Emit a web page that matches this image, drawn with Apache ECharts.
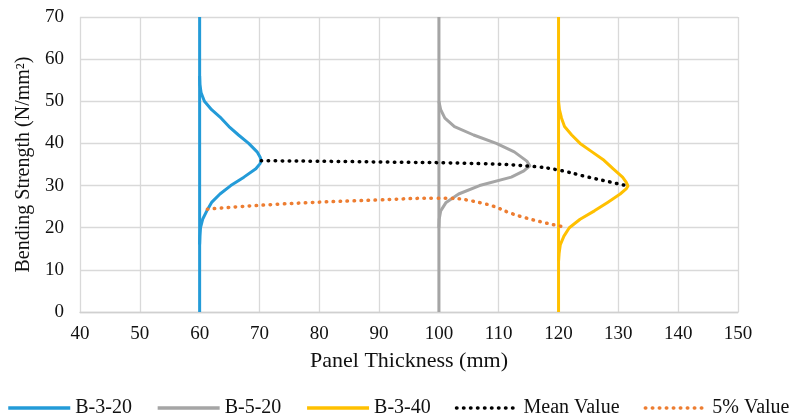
<!DOCTYPE html>
<html>
<head>
<meta charset="utf-8">
<script src="https://cdn.jsdelivr.net/npm/echarts@6/dist/echarts.min.js"></script>
<style>
  html, body { margin: 0; padding: 0; background: #fff; }
  #main { width: 796px; height: 418px; }
</style>
</head>
<body>
<div id="main"></div>
<script>
// values: [thickness, strength]
const xTicks = [40, 150, 10];
const yTicks = [0, 70, 10];

const b320Base = [[60, 0], [60, 70]];
const b320Curve = [[60, 16], [60.05, 18], [60.15, 20], [60.5, 22], [61.2, 24], [62.0, 26], [63.4, 28], [65.2, 30],
  [67.4, 32], [69.4, 34], [70.1, 35.2], [70.3, 35.9], [70.1, 36.8], [69.6, 38], [68.2, 40], [66.5, 42], [64.9, 44], [63.6, 46],
  [62.0, 48], [60.8, 50], [60.25, 52], [60.05, 54], [60, 56]];

const b520Base = [[100, 0], [100, 70]];
const b520Curve = [[100, 20], [100.05, 22], [100.3, 24], [101.2, 26], [103.3, 28], [106.8, 30], [112.1, 32],
  [114.2, 33.5], [115.2, 34.7], [114.7, 35.8], [112.6, 38], [109.6, 40], [105.8, 42], [102.6, 44],
  [101.0, 46], [100.3, 48], [100, 50]];

const b340Base = [[120, 0], [120, 70]];
const b340Curve = [[120, 12], [120.1, 14], [120.3, 16], [120.9, 18], [121.8, 20], [123.6, 22], [126.0, 24],
  [128.2, 26], [130.3, 28], [131.3, 29.2], [131.6, 29.9], [131.3, 30.8], [130.7, 32], [129.1, 34], [127.6, 36], [125.6, 38],
  [123.6, 40], [122.2, 42], [121.0, 44], [120.5, 46], [120.15, 48], [120, 50]];

const meanValue = [[70.3, 35.9], [90.2, 35.6], [106.9, 35.2], [115.2, 34.6], [119.9, 33.7], [124.7, 32.1], [131.6, 29.9]];
const fivePct = [[61.3, 24.4], [73.4, 25.6], [90.2, 26.6], [99.6, 27.0], [107, 25.9], [113.6, 22.7], [120.5, 20.3]];

const serif = 'Liberation Serif';

function solid(name, data, color) {
  return {
    name: name, type: 'line', data: data, symbol: 'none', smooth: false,
    lineStyle: { color: color, width: 3, join: 'round' }, itemStyle: { color: color }
  };
}
function dotted(name, data, color) {
  return {
    name: name, type: 'line', data: data, symbol: 'none', smooth: 0.5,
    lineStyle: { color: color, width: 3.5, type: [0.5, 6.5], cap: 'round' }, itemStyle: { color: color }
  };
}

var myChart = echarts.init(document.getElementById('main'));
var option = {
  animation: false,
  grid: { left: 80, right: 58, top: 17, bottom: 106 },
  xAxis: {
    type: 'value', min: xTicks[0], max: xTicks[1], interval: xTicks[2],
    name: 'Panel Thickness (mm)', nameLocation: 'middle', nameGap: 38,
    nameTextStyle: { fontFamily: serif, fontSize: 22, color: '#111' },
    axisLine: { show: true, lineStyle: { color: '#d0d0d0', width: 1.3 } },
    axisTick: { show: false },
    axisLabel: { fontFamily: serif, fontSize: 19, color: '#111', margin: 13 },
    splitLine: { show: true, lineStyle: { color: '#d9d9d9', width: 1.3 } }
  },
  yAxis: {
    type: 'value', min: yTicks[0], max: yTicks[1], interval: yTicks[2],
    name: 'Bending Strength (N/mm²)', nameLocation: 'middle', nameGap: 44,
    nameTextStyle: { fontFamily: serif, fontSize: 20, color: '#111' },
    axisLine: { show: false },
    axisTick: { show: false },
    axisLabel: { fontFamily: serif, fontSize: 19, color: '#111', margin: 16 },
    splitLine: { show: true, lineStyle: { color: '#d9d9d9', width: 1.3 } }
  },
  legend: {
    bottom: -5, left: 'center', itemWidth: 62, itemHeight: 14, itemGap: 24,
    itemStyle: { opacity: 0 },
    lineStyle: { width: 3.5 },
    textStyle: { fontFamily: serif, fontSize: 20, color: '#111' },
    data: ['B-3-20', 'B-5-20', 'B-3-40', 'Mean Value', '5% Value']
  },
  series: [
    solid('B-3-20', b320Base, '#239bd8'),
    solid('B-3-20', b320Curve, '#239bd8'),
    solid('B-5-20', b520Base, '#a5a5a5'),
    solid('B-5-20', b520Curve, '#a5a5a5'),
    solid('B-3-40', b340Base, '#ffc000'),
    solid('B-3-40', b340Curve, '#ffc000'),
    dotted('Mean Value', meanValue, '#000000'),
    dotted('5% Value', fivePct, '#ed7d31')
  ]
};
myChart.setOption(option);
</script>
</body>
</html>
